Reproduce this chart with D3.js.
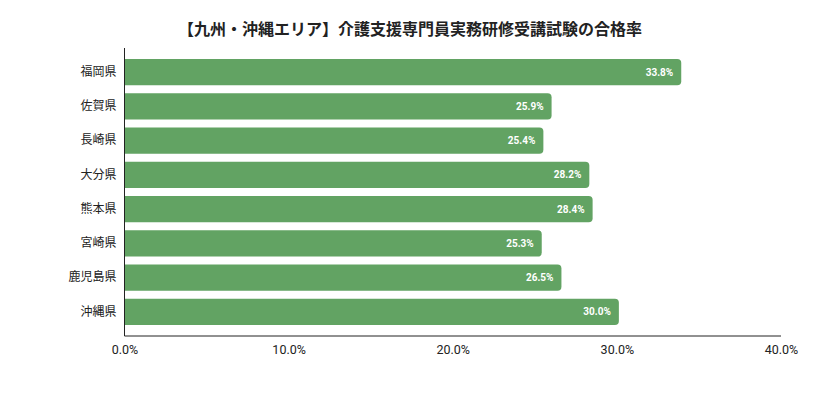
<!DOCTYPE html>
<html>
<head>
<meta charset="utf-8">
<script src="https://cdn.jsdelivr.net/npm/d3@7"></script>
<style>
  body { margin: 0; background: #fff; }
  text { font-family: Roboto, "Noto Sans CJK JP", sans-serif; }
</style>
</head>
<body>
<svg id="chart" width="813" height="410"></svg>
<script>
const titleText = "【九州・沖縄エリア】介護支援専門員実務研修受講試験の合格率";
const prefectures = ["福岡県", "佐賀県", "長崎県", "大分県", "熊本県", "宮崎県", "鹿児島県", "沖縄県"];
const passRates = [33.8, 25.9, 25.4, 28.2, 28.4, 25.3, 26.5, 30.0];
const xTicks = [0, 10, 20, 30, 40];

const svg = d3.select("#chart");
const plotLeft = 124.5, plotRight = 781, plotTop = 48, plotBottom = 336;
const barColor = "#62a363";

const x = d3.scaleLinear().domain([0, 40]).range([plotLeft, plotRight]);
const y = d3.scaleBand().domain(prefectures).range([plotTop, plotBottom])
  .paddingInner(0.23).paddingOuter(0.32);

// title
svg.append("text")
  .attr("x", 410).attr("y", 35)
  .attr("text-anchor", "middle")
  .attr("font-size", "16px")
  .attr("font-weight", "bold")
  .attr("fill", "#222")
  .text(titleText);

// bars, square on the left and rounded on the right
const r = 4;
svg.append("g").selectAll("path")
  .data(prefectures)
  .join("path")
  .attr("fill", barColor)
  .attr("d", (d, i) => {
    const x0 = x(0), x1 = x(passRates[i]) + 2;
    const y0 = y(d), h = y.bandwidth();
    return `M${x0},${y0}H${x1 - r}Q${x1},${y0} ${x1},${y0 + r}V${y0 + h - r}Q${x1},${y0 + h} ${x1 - r},${y0 + h}H${x0}Z`;
  });

// value labels
svg.append("g").selectAll("text")
  .data(prefectures)
  .join("text")
  .attr("x", (d, i) => x(passRates[i]) - 6)
  .attr("y", d => y(d) + y.bandwidth() / 2)
  .attr("dy", "0.35em")
  .attr("text-anchor", "end")
  .attr("font-size", "10px")
  .attr("font-weight", "bold")
  .attr("fill", "#fff")
  .text((d, i) => passRates[i].toFixed(1) + "%");

// y axis
const yAxis = svg.append("g")
  .attr("transform", `translate(${plotLeft},0)`)
  .call(d3.axisLeft(y).tickSize(0).tickPadding(8));
yAxis.select(".domain").attr("stroke", "#222").attr("d", `M0,${plotTop}V${plotBottom}`);
yAxis.selectAll("text")
  .attr("font-size", "12px")
  .attr("fill", "#222")
  .style("font-family", "'Noto Sans CJK JP', sans-serif");

// x axis
const xAxis = svg.append("g")
  .attr("transform", `translate(0,${plotBottom})`)
  .call(d3.axisBottom(x).tickValues(xTicks).tickSize(0).tickPadding(9)
    .tickFormat(d => d.toFixed(1) + "%"));
xAxis.select(".domain").attr("stroke", "#222").attr("d", `M${plotLeft},0H${plotRight}`);
xAxis.selectAll("text")
  .attr("font-size", "12.5px")
  .attr("fill", "#222");
</script>
</body>
</html>
